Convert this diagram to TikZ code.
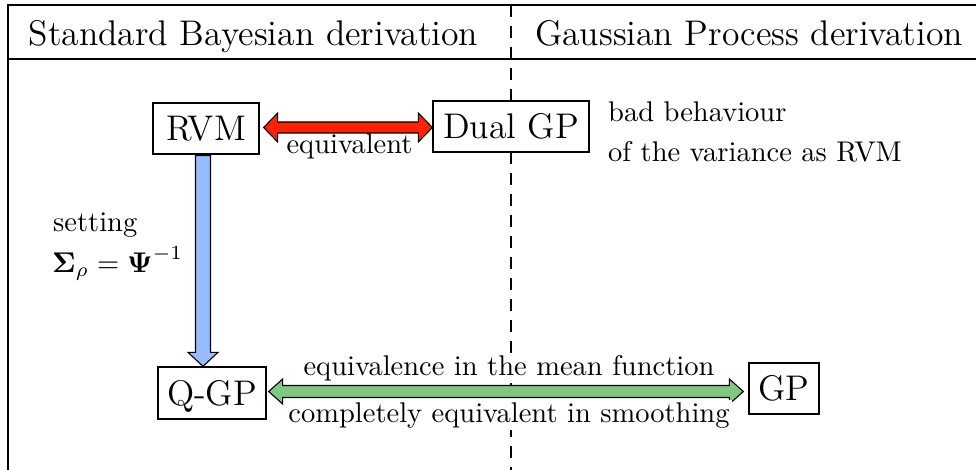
\documentclass[tikz,border=0pt]{standalone}
\usepackage{amsmath}
\usepackage{graphicx}
\usetikzlibrary{calc}
\definecolor{redfill}{RGB}{255,34,0}
\definecolor{bluefill}{RGB}{153,187,255}
\definecolor{greenfill}{RGB}{128,200,128}
\newcommand{\hdtext}[1]{\scalebox{2.85}{\fontsize{12.5}{15}\selectfont #1}}
\newcommand{\lbtext}[1]{\scalebox{2.85}{\fontsize{10}{12}\selectfont #1}}
\begin{document}
\begin{tikzpicture}[x=1pt,y=-1pt,
  boxnode/.style={draw,line width=1.3pt,fill=white,inner sep=0pt,text height=24pt,text depth=0pt,anchor=center},
  lbl/.style={inner sep=0pt,anchor=base},
  lblw/.style={inner sep=0pt,anchor=base west},
  fatarrow/.style={draw=black,line width=1.1pt,line join=miter}]
\useasboundingbox (0,0) rectangle (976,470);
% divider
\draw[line width=2.5pt,dash pattern=on 12pt off 9pt] (511,5) coordinate (dtop) -- (511,472) coordinate (dbot);
% frame
\draw[line width=2.8pt,line join=miter] (978,5) coordinate (fr1) -- (8,5) coordinate (fr2) -- (8,472) coordinate (fr3);
\draw[line width=2.5pt] (8,59) coordinate (hd1) -- (978,59) coordinate (hd2);
% headers
\node[lbl] (hl) at (253.5,46) {\hdtext{Standard Bayesian derivation}};
\node[lbl] (hr) at (749,46) {\hdtext{Gaussian Process derivation}};
% boxes
\node[boxnode,minimum width=106pt,minimum height=51pt] (rvm) at (206,128.5) {\hdtext{RVM}};
\node[boxnode,minimum width=156pt,minimum height=51pt] (dual) at (511,126.5) {\hdtext{Dual GP}};
\node[boxnode,minimum width=108pt,minimum height=52pt] (qgp) at (212,393) {\hdtext{Q-GP}};
\node[boxnode,minimum width=70pt,minimum height=51pt] (gp) at (784,388.5) {\hdtext{GP}};
% red double arrow
\path[fatarrow,fill=redfill] let \p1=(rvm.east), \p2=(dual.west), \p3=($(rvm.east)!0.5!(dual.west)$) in
  (\x1+4pt,\y3) -- (\x1+18pt,\y3+14.5pt) -- (\x1+18pt,\y3+5.5pt) -- (\x2-14pt,\y3+5.5pt)
  -- (\x2-14pt,\y3+14.5pt) -- (\x2,\y3) -- (\x2-14pt,\y3-14.5pt) -- (\x2-14pt,\y3-5.5pt)
  -- (\x1+18pt,\y3-5.5pt) -- (\x1+18pt,\y3-14.5pt) -- cycle;
% blue arrow
\path[fatarrow,fill=bluefill] let \p1=(rvm.south), \p2=(qgp.north) in
  (195.5pt,\y1-1pt) -- (195.5pt,\y2+14pt) -- (188pt,\y2+14pt) -- (203pt,\y2)
  -- (218pt,\y2+14pt) -- (210.5pt,\y2+14pt) -- (210.5pt,\y1-1pt) -- cycle;
% green double arrow
\path[fatarrow,fill=greenfill] let \p1=(qgp.east), \p2=(gp.west) in
  (\x1+2pt,-391.5pt) -- (\x1+16pt,-379pt) -- (\x1+16pt,-385.5pt) -- (\x2-19pt,-385.5pt)
  -- (\x2-19pt,-379pt) -- (\x2-5pt,-391.5pt) -- (\x2-19pt,-404pt) -- (\x2-19pt,-397.5pt)
  -- (\x1+16pt,-397.5pt) -- (\x1+16pt,-404pt) -- cycle;
% labels
\node[lbl] (eq) at (349.5,154) {\lbtext{equivalent}};
\node[lblw] (bad1) at (608,122) {\lbtext{bad behaviour}};
\node[lblw] (bad2) at (608,162) {\lbtext{of the variance as RVM}};
\node[lblw] (set1) at (53,232) {\lbtext{setting}};
\node[lblw] (set2) at (52,272) {\lbtext{$\boldsymbol{\Sigma}_{\rho}=\boldsymbol{\Psi}^{-1}$}};
\node[lbl,fill=white,inner sep=2pt] (mean) at (509,375) {\lbtext{equivalence in the mean function}};
\node[lbl,fill=white,inner sep=2pt] (smooth) at (509,422) {\lbtext{completely equivalent in smoothing}};
\end{tikzpicture}
\end{document}
